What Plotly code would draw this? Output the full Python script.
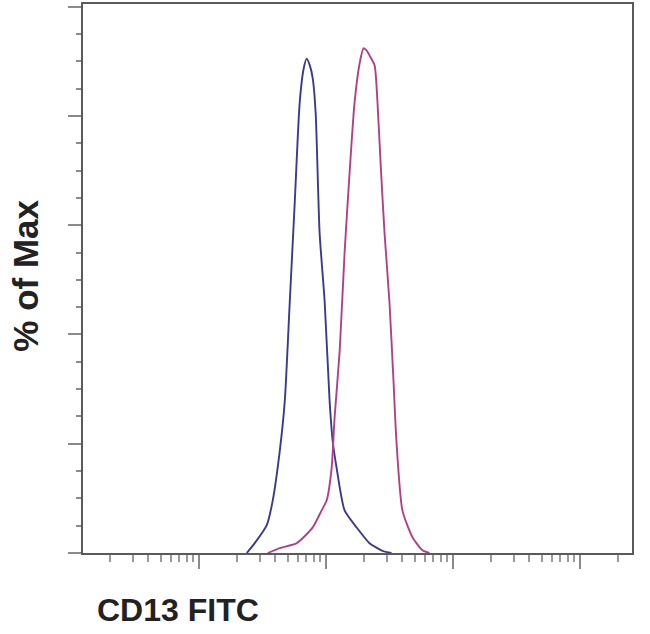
import plotly.graph_objects as go

# Isotype / unstained control (blue) and CD13 FITC stained (magenta)
blue_x = [238, 275, 342, 381, 433, 474, 519, 568, 621, 668, 705, 745, 787, 830, 891, 977,
          1069, 1130, 1213, 1403, 1742, 2203, 2786, 3281]
blue_y = [0, 1.8, 5.1, 9.6, 18.7, 27.8, 46, 64.2, 82.4, 88.7, 90.5, 89.3, 86.9, 80.5, 58.7, 46,
          27.8, 20.5, 15.6, 7.8, 4.7, 1.8, 0.4, 0]

pink_x = [348, 433, 589, 787, 925, 1012, 1109, 1169, 1282, 1403, 1535, 1679, 1841, 1977,
          2089, 2203, 2415, 2547, 2692, 2891, 3162, 3404, 3589, 4000, 4797, 5754, 6531]
pink_y = [0, 0.9, 1.8, 4.7, 7.8, 9.6, 15.6, 24.7, 36.9, 55.1, 69.6, 82.4, 89.6, 92.4,
          92, 91.1, 89.3, 82.4, 71.5, 58.7, 46, 31.5, 20.5, 7.8, 2.9, 0.5, 0]

fig = go.Figure()
fig.add_trace(go.Scatter(x=blue_x, y=blue_y, mode="lines",
                         line=dict(color="#3a3a8e", width=1.9, shape="spline", smoothing=0.6),
                         showlegend=False))
fig.add_trace(go.Scatter(x=pink_x, y=pink_y, mode="lines",
                         line=dict(color="#b0408a", width=1.9, shape="spline", smoothing=0.6),
                         showlegend=False))

axis_col = "#5a5a5a"
fig.update_xaxes(type="log", range=[1.087, 5.41], showgrid=False, zeroline=False,
                 showline=True, linecolor=axis_col, linewidth=2, mirror=True,
                 ticks="outside", tickvals=[100, 1000, 10000, 100000], ticklen=14,
                 tickcolor="#8a8a8a", tickwidth=1.5, showticklabels=False,
                 minor=dict(ticks="outside", ticklen=7, tickcolor="#9a9a9a",
                            tickvals=[v * 10 ** e for e in range(1, 6) for v in range(2, 10)]))
fig.update_yaxes(range=[0, 100.5], showgrid=False, zeroline=False,
                 showline=True, linecolor=axis_col, linewidth=2, mirror=True,
                 ticks="outside", tickvals=[0, 20, 40, 60, 80, 100], ticklen=13,
                 tickcolor="#8a8a8a", tickwidth=1.5, showticklabels=False,
                 minor=dict(ticks="outside", ticklen=5, tickcolor="#8a8a8a", dtick=5))

fig.add_annotation(text="<b>% of Max</b>", xref="paper", yref="paper", x=-0.104, y=0.505,
                   textangle=-90, showarrow=False, xanchor="center", yanchor="middle",
                   font=dict(family="Liberation Sans, Arial", size=35, color="#222"))
fig.add_annotation(text="<b>CD13 FITC</b>", xref="paper", yref="paper", x=0.022, y=-0.103,
                   showarrow=False, xanchor="left", yanchor="middle",
                   font=dict(family="Liberation Sans, Arial", size=32, color="#222"))

fig.update_layout(width=650, height=634,
                  margin=dict(l=83, r=18, t=4, b=81, autoexpand=False),
                  plot_bgcolor="white", paper_bgcolor="white")
fig.write_html("out.html", config={"displayModeBar": False},
               post_script="document.body.style.margin='0';document.body.style.padding='0';")
